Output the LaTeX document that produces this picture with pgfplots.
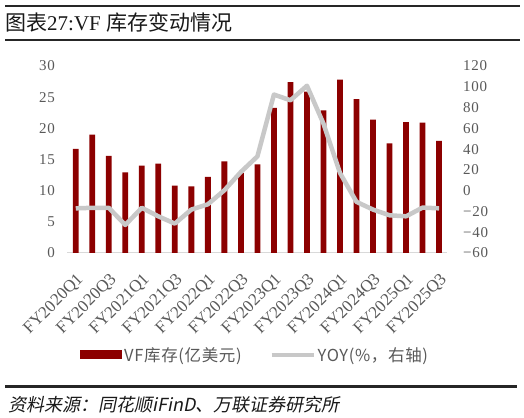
\documentclass[border=0pt]{standalone}
\usepackage{pgfplots}
\pgfplotsset{compat=1.18}
\usepackage{fontspec}
\setmainfont{Liberation Serif}
\newfontfamily\cjk{Noto Sans CJK SC}
\newfontfamily\cjkleg{Noto Sans CJK SC}[LetterSpace=4]
\newfontfamily\cjkit{Noto Sans CJK SC}[FakeSlant=0.2]
\newfontfamily\tickfont{Liberation Serif}[LetterSpace=5]
\definecolor{barred}{RGB}{140,0,0}
\definecolor{linegrey}{RGB}{200,200,200}
\definecolor{txtgrey}{RGB}{89,89,89}
\definecolor{axgrey}{RGB}{217,217,217}
\begin{document}
\begin{tikzpicture}
\useasboundingbox[fill=white] (0,0) rectangle (524bp,418bp);
\draw[line width=2.4bp, black!85] (5bp,412bp) -- (520bp,412bp);
\node[anchor=west, inner sep=0, text=black!90] at (5bp,396bp) {\fontsize{21bp}{23bp}\selectfont{\cjk 图表}27:VF {\cjk 库存变动情况}};
\draw[line width=2.4bp, black!85] (5bp,378bp) -- (520bp,378bp);
\draw[line width=2.4bp, black!85] (5bp,31.3bp) -- (517bp,31.3bp);
\node[anchor=west, inner sep=0, text=black!90] at (8bp,13bp) {\fontsize{18bp}{20bp}\selectfont\cjkit 资料来源：同花顺iFinD、万联证券研究所};
\begin{axis}[
  at={(67bp,165bp)}, anchor=south west, scale only axis,
  width=380bp, height=187bp,
  xmin=-0.53, xmax=22.48, ymin=0, ymax=30,
  ytick={0,5,...,30},
  xtick={0,2,...,22},
  xticklabels={FY2020Q1,FY2020Q3,FY2021Q1,FY2021Q3,FY2022Q1,FY2022Q3,FY2023Q1,FY2023Q3,FY2024Q1,FY2024Q3,FY2025Q1,FY2025Q3},
  axis x line*=bottom, axis y line*=left,
  x axis line style={draw=axgrey, line width=1bp, -},
  y axis line style={draw=none},
  major tick length=0pt,
  /pgf/number format/assume math mode=true,
  yticklabel style={font=\tickfont\fontsize{15bp}{15bp}\selectfont, text=txtgrey, anchor=east, inner sep=0pt, xshift=-12bp},
  xticklabel style={font=\fontsize{17bp}{17bp}\selectfont, text=txtgrey, anchor=north east, inner sep=0pt, xshift=0bp, yshift=-19bp, rotate=45},
  clip=false,
  legend columns=2,
  legend style={draw=none, fill=none, at={(0.495,-0.545)}, anchor=center,
    font=\cjkleg\fontsize{16.5bp}{16.5bp}\selectfont, text=txtgrey,
    nodes={inner sep=2bp},
    /tikz/every even column/.append style={column sep=26bp}},
]
\addplot[ybar, bar width=5.8bp, bar shift=0pt, fill=barred, draw=none,
  legend image code/.code={\fill[barred] (0bp,-4.5bp) rectangle (42bp,4.5bp);}]
  coordinates {(0,16.7) (1,19.0) (2,15.6) (3,12.95) (4,14.0) (5,14.35) (6,10.8) (7,10.7) (8,12.2) (9,14.7) (10,12.85) (11,14.2) (12,23.3) (13,27.4) (14,25.9) (15,22.9) (16,27.8) (17,24.7) (18,21.4) (19,17.6) (20,21.0) (21,20.9) (22,18.0)};
\addlegendentry{VF库存(亿美元)}
\addlegendimage{legend image code/.code={\draw[linegrey, line width=4bp] (0bp,0bp) -- (42bp,0bp);}}
\addlegendentry{YOY(\%，右轴)}
\end{axis}
\begin{axis}[
  at={(67bp,165bp)}, anchor=south west, scale only axis,
  width=380bp, height=187bp,
  xmin=-0.53, xmax=22.48, ymin=-60, ymax=120,
  ytick={-60,-40,...,120},
  yticklabels={−60,−40,−20,0,20,40,60,80,100,120},
  axis x line=none, axis y line*=right,
  y axis line style={draw=none},
  major tick length=0pt,
  yticklabel style={font=\tickfont\fontsize{15bp}{15bp}\selectfont, text=txtgrey, anchor=west, inner sep=0pt, xshift=16bp},
  clip=false,
]
\addplot[linegrey, line width=4.5bp, line join=round, mark=none]
  coordinates {(0,-17) (1,-16.5) (2,-16.5) (3,-33) (4,-16.5) (5,-24.7) (6,-31.7) (7,-18.2) (8,-13.1) (9,0.4) (10,18) (11,33) (12,92.5) (13,87) (14,101) (15,64.5) (16,17) (17,-10.8) (18,-18.2) (19,-23.7) (20,-24.7) (21,-16.3) (22,-17)};
\end{axis}
\end{tikzpicture}
\end{document}
